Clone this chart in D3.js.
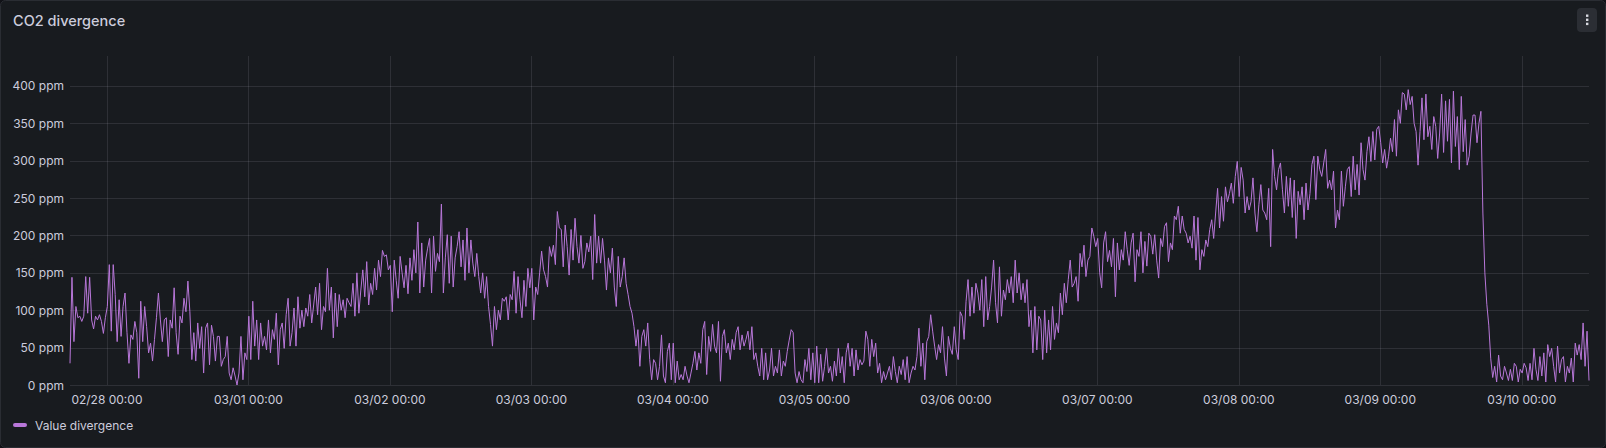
<!DOCTYPE html>
<html>
<head>
<meta charset="utf-8">
<script src="https://cdn.jsdelivr.net/npm/d3@7"></script>
<style>
  html, body { margin: 0; padding: 0; background: #111217; }
  svg { display: block; font-family: Inter, "Noto Sans", sans-serif; }
</style>
</head>
<body>
<svg id="chart" width="1606" height="448"></svg>
<script>
// ---- Data ----
const title = "CO2 divergence";
const seriesName = "Value divergence";
const unit = "ppm";
const rangeStart = "2025-02-27T17:44:00Z";
const rangeEnd = "2025-03-10T11:24:00Z";
const firstSample = "2025-02-27T17:44:00Z";
const stepMinutes = 20;
const yTicks = [0, 50, 100, 150, 200, 250, 300, 350, 400];
const yMax = 440;

// values every 20 minutes, grouped per day
const day0227 = [29,144,58,105,90,92,85,92,145,96,144,87,75,92,87,94,85,69,90];
const day0228 = [105,161,72,161,121,58,114,65,105,123,70,29,67,61,85,70,9,112,58,105,
  78,43,56,32,61,90,123,87,58,87,90,38,87,76,130,70,41,92,83,116,
  98,139,98,34,70,32,83,49,78,16,76,83,27,80,65,32,65,65,25,34,
  38,65,16,7,23,12,0,16,65,7,43,34];
const day0301 = [92,34,112,52,87,34,83,52,65,47,87,43,74,61,96,27,74,83,49,94,
  116,52,70,103,52,118,76,100,78,103,92,121,83,107,131,94,136,74,105,98,156,
  100,131,63,123,78,121,100,114,90,116,110,105,136,92,150,96,127,154,118,
  165,107,136,121,156,127,167,145,180,172,174,154];
const day0302 = [160,98,167,140,116,172,150,130,160,122,170,140,181,150,218,123,190,131,167,183,
  196,123,199,152,176,165,242,123,170,201,136,199,131,170,185,205,158,194,140,210,
  150,194,163,145,176,145,123,150,116,145,105,81,52,105,74,100,87,116,112,118,
  87,121,114,152,96,145,114,90,140,105,156,130];
const day0303 = [156,87,131,121,150,179,154,145,131,185,172,187,161,232,210,208,158,214,185,147,
  208,167,223,185,163,200,156,165,190,178,199,141,228,163,199,163,196,167,127,170,
  150,183,131,105,172,131,145,170,136,121,105,96,78,52,74,25,65,74,52,83,
  34,7,34,29,7,25,67,12,3,45,56,7];
const day0304 = [56,3,32,7,14,7,25,12,3,16,29,45,20,43,29,74,85,14,65,45,
  81,52,43,85,5,65,74,43,56,34,61,47,70,78,47,67,52,61,72,47,
  78,34,43,25,12,49,7,43,7,20,49,12,25,16,47,12,32,25,45,60,
  74,70,16,3,18,7,3,34,18,49,7,43];
const day0305 = [3,52,3,41,5,25,49,16,25,5,32,12,49,16,38,3,43,56,
  25,49,12,47,20,34,27,32,72,61,25,61,38,56,16,29,3,18,7,16,
  25,7,38,18,3,25,14,34,7,38,3,16,25,20,38,76,25,56,7,58,
  65,94,72,52,34,54,43,78,36,12,65,49,41,78];
const day0306 = [47,34,98,92,61,112,141,92,131,96,136,123,100,141,78,145,87,105,131,167,
  110,83,158,92,127,114,141,123,145,110,167,123,150,114,136,110,141,78,100,43,
  105,47,92,87,34,100,43,87,47,105,61,83,70,123,94,136,110,141,167,131,
  136,145,112,176,158,187,145,167,172,210,199,185];
const day0307 = [196,150,130,190,205,165,
  180,158,196,118,190,154,181,167,205,181,160,190,203,138,181,172,205,150,192,159,
  203,199,175,201,167,143,196,185,212,217,165,190,181,226,221,239,203,226,208,203,
  190,199,183,226,167,224,154,181,172,194,185,208,221,196,230,263,210,252,219,265,
  245,256,270,243,279,299];
const day0308 = [252,291,274,230,252,234,245,277,230,205,241,268,234,230,221,263,185,315,279,261,
  288,297,261,230,279,239,277,224,274,196,259,241,265,221,270,234,256,295,306,248,
  306,288,279,297,315,263,274,261,286,210,234,221,286,239,265,288,292,252,306,261,
  295,254,324,288,274,312,332,299,339,301,342,346];
const day0309 = [324,297,315,290,306,330,312,355,306,368,350,391,389,368,395,375,386,350,339,294,
  339,384,328,389,332,346,315,359,346,303,337,389,311,380,326,382,297,393,319,359,
  288,386,312,355,294,306,337,361,361,324,350,366,230,150,108,80,35,10,25,4,
  40,12,7,25,16,6,21,6,29,25,4,21];
const day0310 = [16,29,23,6,29,7,49,21,6,38,12,43,4,54,38,49,25,4,52,16,
  34,38,4,25,16,36,4,56,40,54,34,83,25,72,6];

const values = [].concat(day0227, day0228, day0301, day0302, day0303, day0304,
  day0305, day0306, day0307, day0308, day0309, day0310);
const t0 = new Date(firstSample).getTime();
const points = values.map((v, i) => ({ t: new Date(t0 + i * stepMinutes * 60000), v }));

// ---- Layout ----
const W = 1606, H = 448;
const plot = { left: 70, right: 1589, top: 56, bottom: 385 };
const textColor = "#ccccdc";
const gridColor = "rgba(204,204,220,0.12)";
const lineColor = "#b877d9";

const svg = d3.select("#chart");

// panel
svg.append("rect")
  .attr("x", 0.5).attr("y", 0.5).attr("width", W - 1).attr("height", H - 1)
  .attr("rx", 5).attr("fill", "#181b1f").attr("stroke", "#2a2d33");

svg.append("text")
  .attr("x", 13).attr("y", 26)
  .attr("fill", textColor).attr("font-size", 14.5).attr("font-weight", 500)
  .text(title);

// menu button
svg.append("rect").attr("x", 1577).attr("y", 8).attr("width", 20).attr("height", 24)
  .attr("rx", 4).attr("fill", "#2b2e34");
[15.7, 19.8, 23.9].forEach(cy => {
  svg.append("rect").attr("x", 1586).attr("y", cy - 1.2).attr("width", 2.4).attr("height", 2.4)
    .attr("fill", "#d8d9e0");
});

const x = d3.scaleUtc().domain([new Date(rangeStart), new Date(rangeEnd)]).range([plot.left, plot.right]);
const y = d3.scaleLinear().domain([0, yMax]).range([plot.bottom, plot.top]);

// vertical grid + x labels
const dayTicks = x.ticks(d3.utcDay.every(1));
const fmt = d3.utcFormat("%m/%d %H:%M");
const g = svg.append("g");
g.selectAll("line.vg").data(dayTicks).join("line")
  .attr("x1", d => Math.round(x(d)) + 0.5).attr("x2", d => Math.round(x(d)) + 0.5)
  .attr("y1", plot.top).attr("y2", plot.bottom)
  .attr("stroke", gridColor);
g.selectAll("line.hg").data(yTicks).join("line")
  .attr("x1", plot.left).attr("x2", plot.right)
  .attr("y1", d => Math.round(y(d)) + 0.5).attr("y2", d => Math.round(y(d)) + 0.5)
  .attr("stroke", gridColor);

g.selectAll("text.xl").data(dayTicks).join("text")
  .attr("x", d => x(d)).attr("y", 399)
  .attr("text-anchor", "middle").attr("dominant-baseline", "central")
  .attr("fill", textColor).attr("font-size", 12)
  .text(d => fmt(d));

g.selectAll("text.yl").data(yTicks).join("text")
  .attr("x", 64).attr("y", d => y(d))
  .attr("text-anchor", "end").attr("dominant-baseline", "central")
  .attr("fill", textColor).attr("font-size", 12)
  .text(d => `${d} ${unit}`);

// line
const line = d3.line().x(d => x(d.t)).y(d => y(d.v));
svg.append("path").datum(points)
  .attr("d", line)
  .attr("fill", "none").attr("stroke", lineColor).attr("stroke-width", 1)
  .attr("stroke-linejoin", "round");

// legend
svg.append("rect").attr("x", 13).attr("y", 423).attr("width", 14).attr("height", 4)
  .attr("rx", 2).attr("fill", lineColor);
svg.append("text").attr("x", 35).attr("y", 425)
  .attr("dominant-baseline", "central")
  .attr("fill", textColor).attr("font-size", 12)
  .text(seriesName);
</script>
</body>
</html>
